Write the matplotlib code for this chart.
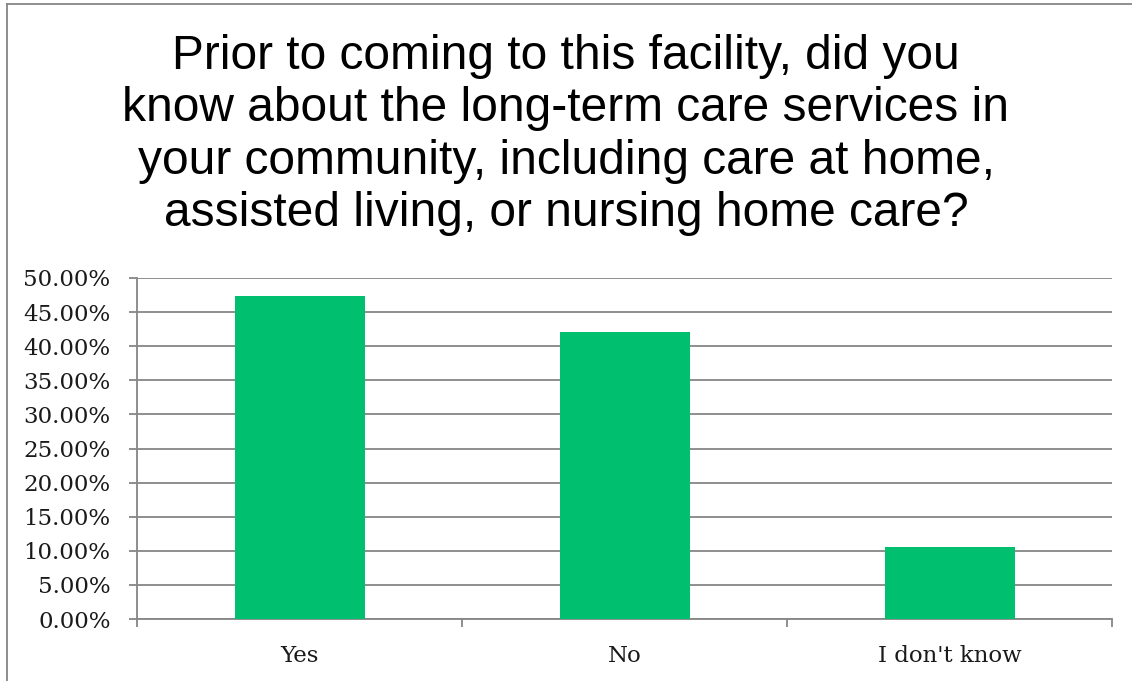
import numpy as np
import matplotlib.pyplot as plt
from matplotlib.ticker import FuncFormatter, FixedLocator
from matplotlib.lines import Line2D

# =========================================================
# Datos
# =========================================================

categories = ["Yes", "No", "I don't know"]
shares = [47.37, 42.11, 10.53]
y_ticks = np.arange(0, 55, 5)

TITLE = (
    "Prior to coming to this facility, did you\n"
    "know about the long-term care services in\n"
    "your community, including care at home,\n"
    "assisted living, or nursing home care?"
)

BAR_COLOR = "#00BF6F"
GRID_COLOR = "#868686"

fig = plt.figure(figsize=(11.32, 6.81), dpi=100)
ax = fig.add_axes([137 / 1132, 1 - 619 / 681, (1112 - 137) / 1132, (619 - 278) / 681])

x = np.arange(len(categories))
ax.bar(x, shares, width=0.4, color=BAR_COLOR, zorder=3)

ax.set_xlim(-0.5, len(categories) - 0.5)
ax.set_ylim(0, 50)

ax.yaxis.set_major_locator(FixedLocator(y_ticks))
ax.yaxis.set_major_formatter(FuncFormatter(lambda v, _: f"{v:.2f}%"))
ax.grid(axis="y", color=GRID_COLOR, linewidth=1.3, zorder=0)

ax.set_xticks(x)
ax.set_xticklabels(categories)
ax.set_xticks(np.arange(len(categories) + 1) - 0.5, minor=True)
ax.tick_params(axis="x", which="major", length=0, pad=19)
ax.tick_params(axis="x", which="minor", length=6, width=1.3, color=GRID_COLOR)
ax.tick_params(axis="y", length=6, width=1.3, color=GRID_COLOR, pad=13)

for lbl in ax.get_xticklabels() + ax.get_yticklabels():
    lbl.set_fontfamily("DejaVu Serif")
    lbl.set_fontsize(16.5)
    lbl.set_color("#1a1a1a")

for side in ["top", "right"]:
    ax.spines[side].set_visible(False)
ax.spines["left"].set_color(GRID_COLOR)
ax.spines["bottom"].set_color(GRID_COLOR)
ax.spines["left"].set_linewidth(1.3)
ax.spines["bottom"].set_linewidth(1.3)

fig.text(0.5, 1 - 135 / 681, TITLE, ha="center", va="center",
         fontsize=34.5, family="Liberation Sans", linespacing=1.21)

# marco del gráfico
fig.add_artist(Line2D([7 / 1132, 7 / 1132], [0, 1 - 4 / 681], color=GRID_COLOR, lw=1.3))
fig.add_artist(Line2D([7 / 1132, 1], [1 - 4 / 681, 1 - 4 / 681], color=GRID_COLOR, lw=1.3))

fig.savefig("out.png", dpi=100)
